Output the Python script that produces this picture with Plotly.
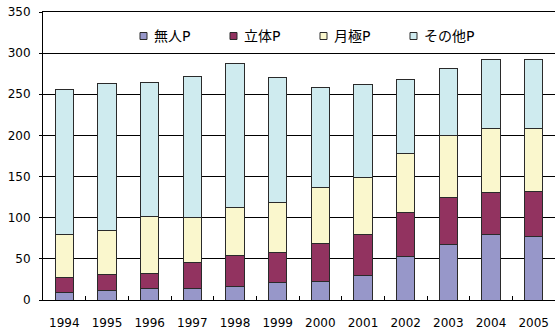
import plotly.graph_objects as go

# Parking capacity by type, stacked per year
years = ["1994", "1995", "1996", "1997", "1998", "1999",
         "2000", "2001", "2002", "2003", "2004", "2005"]
mujin = [9, 12, 14, 14, 16, 21, 22, 30, 53, 68, 80, 77]            # 無人P
rittai = [18, 19, 18, 31, 38, 37, 47, 50, 53, 57, 51, 55]          # 立体P
tsukigime = [53, 53, 69, 55, 59, 60, 68, 69, 72, 75, 78, 76]       # 月極P
sonota = [176, 179, 163, 172, 174, 152, 121, 113, 90, 81, 83, 84]  # その他P

series = [
    ("無人P", mujin, "#9797C9"),
    ("立体P", rittai, "#923360"),
    ("月極P", tsukigime, "#FAF7CD"),
    ("その他P", sonota, "#CFEBEF"),
]

font_family = "DejaVu Sans, Noto Sans CJK JP, sans-serif"

W, H = 555, 331
M = dict(l=43, r=0, t=12, b=31)
plot_w = W - M["l"] - M["r"]
plot_h = H - M["t"] - M["b"]


def px_x(px):
    return (px - M["l"]) / plot_w


def px_y(py):
    return (H - M["b"] - py) / plot_h


fig = go.Figure()
for name, vals, color in series:
    fig.add_trace(go.Bar(
        x=years, y=vals, name=name, showlegend=False,
        marker=dict(color=color, line=dict(color="#2a2a2a", width=1)),
    ))

# Legend row drawn as small swatches with labels
shapes = []
annotations = []
leg_x0, leg_step, leg_yc, sw = 140, 90, 36, 7
for i, (name, _, color) in enumerate(series):
    x0 = leg_x0 + i * leg_step
    shapes.append(dict(
        type="rect", xref="paper", yref="paper",
        x0=px_x(x0), x1=px_x(x0 + sw),
        y0=px_y(leg_yc + sw / 2), y1=px_y(leg_yc - sw / 2),
        fillcolor=color, line=dict(color="#2a2a2a", width=1),
    ))
    annotations.append(dict(
        text=name, xref="paper", yref="paper",
        x=px_x(x0 + sw + 5), y=px_y(leg_yc),
        xanchor="left", yanchor="middle", showarrow=False,
        font=dict(size=14, family=font_family, color="black"),
    ))

fig.update_layout(
    width=W, height=H,
    barmode="stack", bargap=0.57,
    margin=M,
    paper_bgcolor="white", plot_bgcolor="white",
    font=dict(family=font_family, size=12, color="black"),
    showlegend=False,
    shapes=shapes, annotations=annotations,
)
fig.update_xaxes(
    type="category", showline=True, linecolor="black", linewidth=1,
    mirror=True,
    ticks="inside", tickson="boundaries", ticklen=4, tickcolor="black",
    showgrid=False, ticklabelstandoff=12,
)
fig.update_yaxes(
    range=[0, 350], dtick=50, showline=True, linecolor="black", linewidth=1,
    ticks="outside", ticklen=3, tickcolor="black",
    showgrid=True, gridcolor="black", gridwidth=1, zeroline=False,
    ticklabelstandoff=6,
)

fig.write_html("out.html")
